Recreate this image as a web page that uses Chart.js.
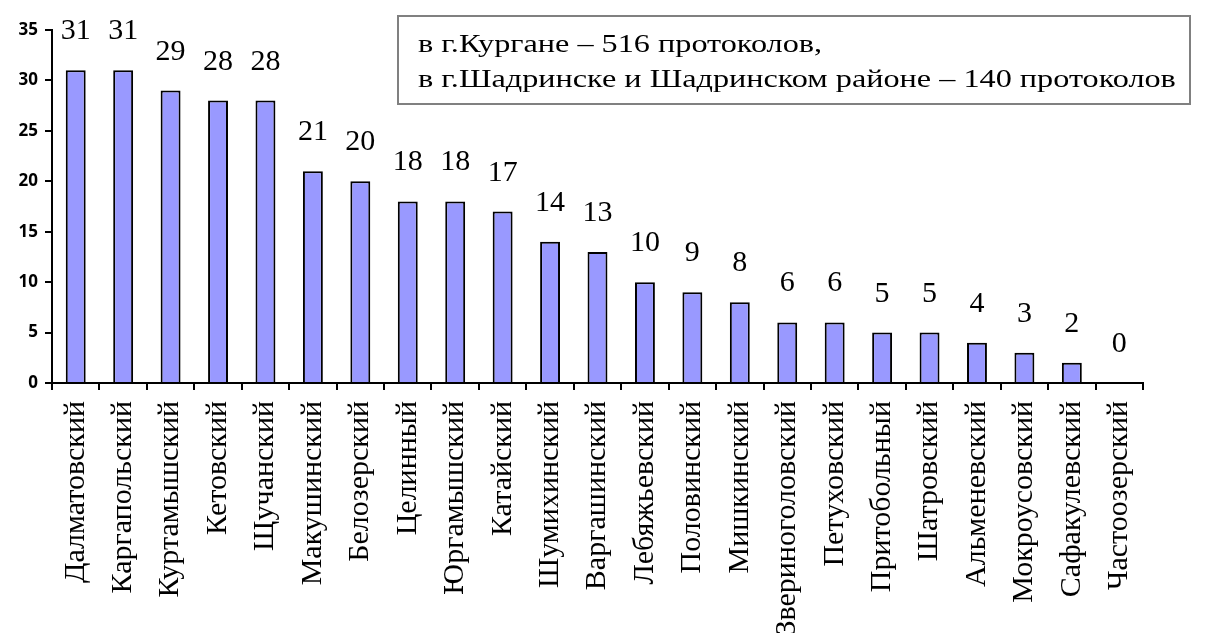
<html>
  <head>
    <title>Протоколы по районам</title>
    <style>
      html, body { margin: 0; padding: 0; background: #fff; }
    </style>
  </head>
  <body>
    <canvas id="chart" width="1205" height="633"></canvas>

    <script src="https://cdn.jsdelivr.net/npm/chart.js@4"></script>
    <script type="text/javascript">
      const districts = [
        'Далматовский', 'Каргапольский', 'Куртамышский', 'Кетовский', 'Щучанский',
        'Макушинский', 'Белозерский', 'Целинный', 'Юргамышский', 'Катайский',
        'Шумихинский', 'Варгашинский', 'Лебяжьевский', 'Половинский', 'Мишкинский',
        'Звериноголовский', 'Петуховский', 'Притобольный', 'Шатровский', 'Альменевский',
        'Мокроусовский', 'Сафакулевский', 'Частоозерский',
      ];
      const protocols = [31, 31, 29, 28, 28, 21, 20, 18, 18, 17, 14, 13, 10, 9, 8, 6, 6, 5, 5, 4, 3, 2, 0];
      const yTicks = [0, 5, 10, 15, 20, 25, 30, 35];
      const noteLines = [
        'в г.Кургане – 516 протоколов,',
        'в г.Шадринске и Шадринском районе – 140 протоколов',
      ];

      const serif = '"Liberation Serif", "Times New Roman", serif';

      // numbers over the bars
      const valueLabels = {
        id: 'valueLabels',
        afterDatasetsDraw(chart) {
          const { ctx } = chart;
          const meta = chart.getDatasetMeta(0);
          ctx.save();
          ctx.font = '30px ' + serif;
          ctx.fillStyle = '#000';
          ctx.textAlign = 'center';
          ctx.textBaseline = 'alphabetic';
          meta.data.forEach((bar, i) => {
            ctx.fillText(String(protocols[i]), bar.x, bar.y - 31);
          });
          ctx.restore();
        },
      };

      // the framed note in the top right corner (text is a bit wide in the original)
      const noteBox = {
        id: 'noteBox',
        afterDraw(chart) {
          const { ctx } = chart;
          ctx.save();
          ctx.strokeStyle = '#808080';
          ctx.lineWidth = 2;
          ctx.strokeRect(398, 16, 792, 88);
          ctx.font = '26px ' + serif;
          ctx.fillStyle = '#000';
          ctx.textAlign = 'left';
          const sx = 1.24;
          ctx.translate(418, 0);
          ctx.scale(sx, 1);
          ctx.fillText(noteLines[0], 0, 52);
          ctx.fillText(noteLines[1], 0, 87);
          ctx.restore();
        },
      };

      new Chart(document.getElementById('chart'), {
        type: 'bar',
        data: {
          labels: districts,
          datasets: [
            {
              data: protocols,
              backgroundColor: '#9999ff',
              borderColor: '#000',
              borderWidth: 2,
              categoryPercentage: 1,
              barPercentage: 0.42,
            },
          ],
        },
        options: {
          responsive: false,
          animation: false,
          layout: { padding: { top: 30, right: 62, left: 0, bottom: 0 } },
          plugins: { legend: { display: false }, tooltip: { enabled: false } },
          scales: {
            x: {
              grid: { drawOnChartArea: false, drawTicks: true, tickLength: 7, color: '#000', lineWidth: 2 },
              border: { color: '#000', width: 2 },
              ticks: {
                autoSkip: false,
                minRotation: 90,
                maxRotation: 90,
                color: '#000',
                padding: 11,
                font: { family: serif, size: 30 },
              },
              afterFit(scale) {
                scale.height = 250;
              },
            },
            y: {
              min: 0,
              max: 35,
              afterBuildTicks(scale) {
                scale.ticks = yTicks.map((v) => ({ value: v }));
              },
              grid: { drawOnChartArea: false, drawTicks: true, tickLength: 7, color: '#000', lineWidth: 2 },
              border: { color: '#000', width: 2 },
              ticks: {
                color: '#000',
                padding: 7,
                font: { family: '"Open Sans", "Liberation Sans", sans-serif', size: 17, weight: 'bold' },
              },
              afterFit(scale) {
                scale.width = 52;
              },
            },
          },
        },
        plugins: [valueLabels, noteBox],
      });
    </script>
  </body>
</html>
